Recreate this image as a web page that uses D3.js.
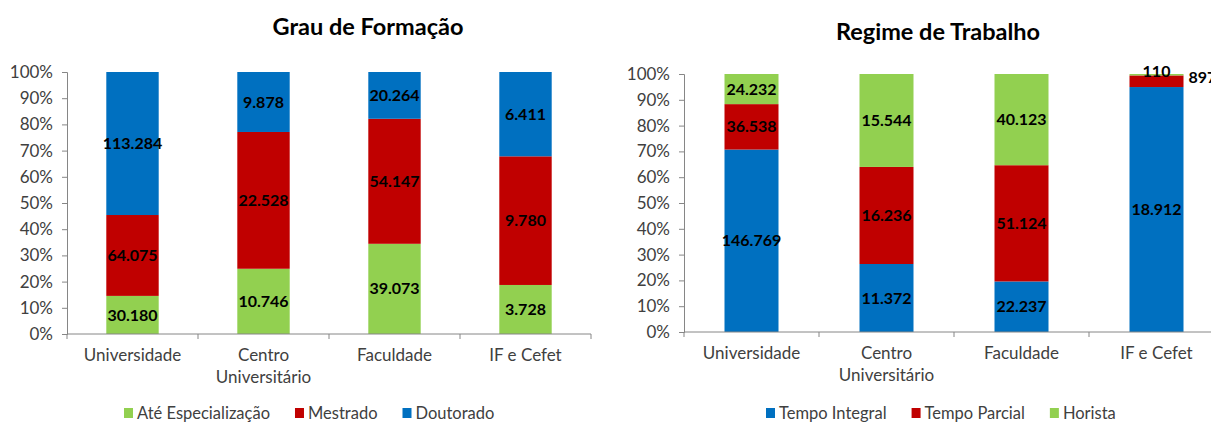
<!DOCTYPE html>
<html><head><meta charset="utf-8">
<script src="https://cdn.jsdelivr.net/npm/d3@7"></script>
<style>
body{margin:0;background:#fff;}
svg{display:block;font-family:Lato, "Open Sans", sans-serif;}
</style></head>
<body>
<svg id="chart" width="1211" height="423"></svg>
<script>
// ---- data ----
const categories = ["Universidade", "Centro\nUniversitário", "Faculdade", "IF e Cefet"];
const formacaoSeries = ["Até Especialização", "Mestrado", "Doutorado"];
const ateEspecializacao = [30180, 10746, 39073, 3728];
const mestrado = [64075, 22528, 54147, 9780];
const doutorado = [113284, 9878, 20264, 6411];

const regimeSeries = ["Tempo Integral", "Tempo Parcial", "Horista"];
const tempoIntegral = [146769, 11372, 22237, 18912];
const tempoParcial = [36538, 16236, 51124, 897];
const horista = [24232, 15544, 40123, 110];

const yTicks = [0, 0.1, 0.2, 0.3, 0.4, 0.5, 0.6, 0.7, 0.8, 0.9, 1.0];

const colors = {blue: "#0070C0", red: "#C00000", green: "#92D050"};

const locale = d3.formatLocale({decimal: ",", thousands: ".", grouping: [3], currency: ["R$", ""]});
const fmt = locale.format(",d");

const svg = d3.select("#chart");

function drawChart(cfg) {
  const g = svg.append("g");
  const x = d3.scaleBand().domain(categories).range([cfg.x0, cfg.x1]).paddingInner(0.6).paddingOuter(0.3);
  const y = d3.scaleLinear().domain([0, 1]).range([cfg.y0, cfg.y1]);

  // title
  g.append("text").attr("x", cfg.titleX).attr("y", cfg.titleY)
    .attr("text-anchor", "middle").attr("font-size", 23.5).attr("font-weight", "bold")
    .attr("fill", "#000").text(cfg.title);

  // stacked data
  const rows = categories.map((c, i) => {
    const o = {cat: c};
    cfg.series.forEach((s, j) => o[s] = cfg.values[j][i]);
    o.total = d3.sum(cfg.values, v => v[i]);
    return o;
  });
  const stack = d3.stack().keys(cfg.series).value((d, k) => d[k] / d.total);
  const layers = stack(rows);

  layers.forEach((layer, li) => {
    g.append("g").selectAll("rect").data(layer).join("rect")
      .attr("x", d => x(d.data.cat))
      .attr("width", x.bandwidth())
      .attr("y", d => y(d[1]))
      .attr("height", d => y(d[0]) - y(d[1]))
      .attr("fill", cfg.colors[li]);
  });

  // axes
  const yAxis = d3.axisLeft(y).tickValues(yTicks).tickFormat(d3.format(".0%")).tickSize(5).tickPadding(9);
  const ya = g.append("g").attr("transform", `translate(${cfg.x0},0)`).call(yAxis);
  ya.selectAll("text").attr("font-size", 17).attr("fill", "#404040").attr("font-family", "Lato");
  ya.selectAll("line, path").attr("stroke", "#868686");

  const xa = g.append("g").attr("transform", `translate(0,${cfg.y0})`);
  xa.append("line").attr("x1", cfg.x0).attr("x2", cfg.x1).attr("stroke", "#868686");
  const bounds = categories.map(c => x(c) - x.step() * x.paddingInner() / 2).concat([cfg.x1]);
  bounds[0] = cfg.x0;
  xa.selectAll("line.tk").data(bounds).join("line").attr("class", "tk")
    .attr("x1", d => d).attr("x2", d => d).attr("y1", 0).attr("y2", 5).attr("stroke", "#868686");
  categories.forEach(c => {
    const t = xa.append("text").attr("text-anchor", "middle").attr("font-size", 17).attr("fill", "#404040")
      .attr("transform", `translate(${x(c) + x.bandwidth() / 2},27)`);
    c.split("\n").forEach((line, k) => t.append("tspan").attr("x", 0).attr("dy", k === 0 ? 0 : 22).text(line));
  });

  // value labels
  layers.forEach((layer, li) => {
    layer.forEach((d, ci) => {
      const v = d.data[cfg.series[li]];
      let lx = x(d.data.cat) + x.bandwidth() / 2;
      let ly = (y(d[0]) + y(d[1])) / 2;
      let anchor = "middle";
      const frac = d[1] - d[0];
      if (frac < 0.02) { ly -= 3; }
      else if (frac < 0.06) { lx = x(d.data.cat) + x.bandwidth() + 5; ly -= 4; anchor = "start"; }
      g.append("text").attr("x", lx).attr("y", ly).attr("dy", "0.35em")
        .attr("text-anchor", anchor).attr("font-size", 16).attr("font-weight", "bold")
        .attr("fill", "#000").text(fmt(v));
    });
  });

  // legend
  const lg = g.append("g").attr("transform", `translate(0,${cfg.legendY})`);
  let lx = cfg.legendX;
  cfg.legendOrder.forEach(si => {
    lg.append("rect").attr("x", lx).attr("y", -5).attr("width", 9).attr("height", 10).attr("fill", cfg.colors[si]);
    const t = lg.append("text").attr("x", lx + 13).attr("y", 0).attr("dy", "0.35em")
      .attr("font-size", 16.5).attr("fill", "#404040").text(cfg.series[si]);
    lx += 13 + t.node().getComputedTextLength() + 25;
  });
}

drawChart({
  title: "Grau de Formação", titleX: 368, titleY: 35,
  x0: 67, x1: 591, y0: 334, y1: 72,
  series: formacaoSeries, values: [ateEspecializacao, mestrado, doutorado],
  colors: [colors.green, colors.red, colors.blue],
  legendX: 124, legendY: 413, legendOrder: [0, 1, 2]
});

drawChart({
  title: "Regime de Trabalho", titleX: 938, titleY: 40,
  x0: 684, x1: 1224, y0: 332, y1: 74,
  series: regimeSeries, values: [tempoIntegral, tempoParcial, horista],
  colors: [colors.blue, colors.red, colors.green],
  legendX: 766, legendY: 413, legendOrder: [0, 1, 2]
});
</script>
</body></html>
